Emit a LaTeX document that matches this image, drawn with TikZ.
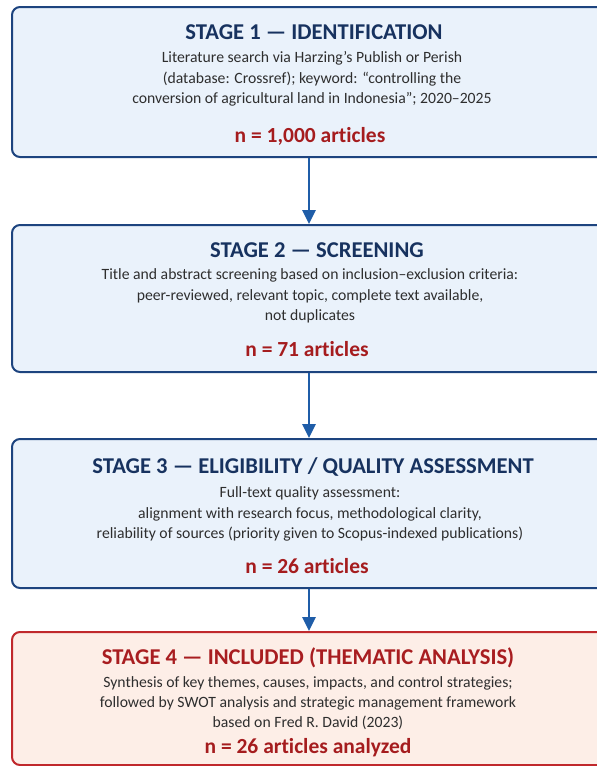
\documentclass[tikz,border=0pt]{standalone}
\usepackage{fontspec}
\setmainfont{Carlito}[Ligatures={CommonOff,TeX}]
\usetikzlibrary{arrows.meta}
\definecolor{boxblue}{HTML}{EAF2FB}
\definecolor{edgeblue}{HTML}{1D447F}
\definecolor{titleblue}{HTML}{17325F}
\definecolor{arrowblue}{HTML}{1F5DA8}
\definecolor{bodygray}{HTML}{2E2E2E}
\definecolor{nred}{HTML}{A51C1E}
\definecolor{boxpink}{HTML}{FDEEE7}
\definecolor{edgered}{HTML}{C0282C}
\definecolor{titlered}{HTML}{A81D20}
\begin{document}
\begin{tikzpicture}[x=1pt,y=-1pt,
  stagebox/.style={draw=edgeblue, fill=boxblue, line width=2pt, rounded corners=8pt, minimum width=596pt, inner sep=0pt},
  redbox/.style={draw=edgered, fill=boxpink, line width=2pt, rounded corners=8pt, minimum width=596pt, inner sep=0pt},
  titletext/.style={inner sep=0pt, text=titleblue, font=\fontsize{22.6}{26}\selectfont\bfseries},
  redtitle/.style={inner sep=0pt, text=titlered, font=\fontsize{22.6}{26}\selectfont\bfseries},
  bodytext/.style={inner sep=0pt, text=bodygray, align=center, font=\fontsize{15.7}{20.3}\selectfont},
  ntext/.style={inner sep=0pt, text=nred, font=\fontsize{21.5}{24}\selectfont\bfseries},
  flow/.style={draw=arrowblue, line width=2.6pt, -{Triangle[width=13pt,length=14pt]}}
]
\useasboundingbox (0,0) rectangle (597,766);
\fill[white] (0,0) rectangle (597,766);

% boxes
\node[stagebox, minimum height=150pt] (b1) at (310,82) {};
\node[stagebox, minimum height=147pt] (b2) at (310,298.5) {};
\node[stagebox, minimum height=149pt] (b3) at (310,513.5) {};
\node[redbox, minimum height=133pt] (b4) at (310,698.5) {};

% box 1
\node[titletext] (t1) at (314,32) {STAGE 1 — IDENTIFICATION};
\node[bodytext] (d1) at (312,79) {Literature search via Harzing’s Publish or Perish\\(database: Crossref); keyword: “controlling the\\conversion of agricultural land in Indonesia”; 2020–2025};
\node[ntext] (n1) at (310,136) {n = 1,000 articles};

% box 2
\node[titletext] (t2) at (317,250) {STAGE 2 — SCREENING};
\node[bodytext] (d2) at (310,296) {Title and abstract screening based on inclusion–exclusion criteria:\\peer-reviewed, relevant topic, complete text available,\\not duplicates};
\node[ntext] (n2) at (307,349) {n = 71 articles};

% box 3
\node[titletext] (t3) at (313,467) {STAGE 3 — ELIGIBILITY / QUALITY ASSESSMENT};
\node[bodytext] (d3) at (310,514) {Full-text quality assessment:\\alignment with research focus, methodological clarity,\\reliability of sources (priority given to Scopus-indexed publications)};
\node[ntext] (n3) at (307,566) {n = 26 articles};

% box 4
\node[redtitle] (t4) at (308,658) {STAGE 4 — INCLUDED (THEMATIC ANALYSIS)};
\node[bodytext] (d4) at (308,703) {Synthesis of key themes, causes, impacts, and control strategies;\\followed by SWOT analysis and strategic management framework\\based on Fred R. David (2023)};
\node[ntext] (n4) at (308,748) {n = 26 articles analyzed};

% arrows
\draw[flow] (b1.south -| 309,0) -- (b2.north -| 309,0);
\draw[flow] (b2.south -| 309,0) -- (b3.north -| 309,0);
\draw[flow] (b3.south -| 309,0) -- (b4.north -| 309,0);
\end{tikzpicture}
\end{document}
